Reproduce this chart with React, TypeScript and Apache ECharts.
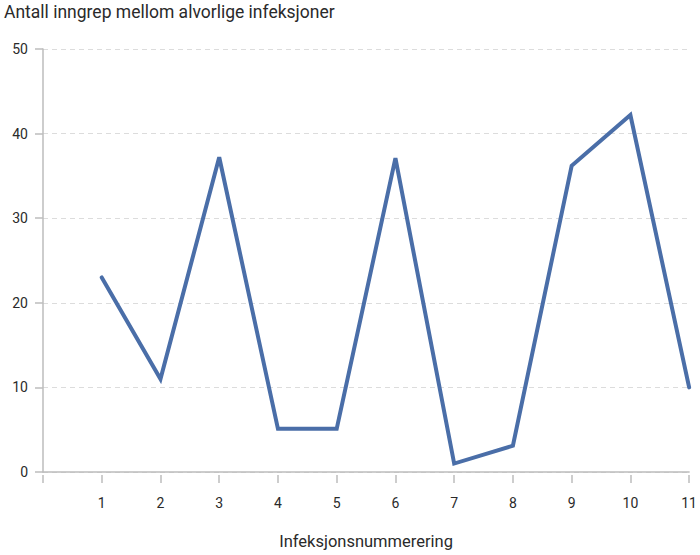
import React, { useEffect, useRef } from "react";
import * as echarts from "echarts";

const infectionNumbers = [1, 2, 3, 4, 5, 6, 7, 8, 9, 10, 11];
const procedureCounts = [23, 11, 37.2, 5.1, 5.1, 37.1, 1, 3.1, 36.2, 42.2, 10];
const yTitle = "Antall inngrep mellom alvorlige infeksjoner";
const xTitle = "Infeksjonsnummerering";

export default function App() {
  const ref = useRef<HTMLDivElement>(null);
  useEffect(() => {
    if (!ref.current) return;
    const chart = echarts.init(ref.current, undefined, { renderer: "svg" });
    const font = "Roboto, 'DejaVu Sans', sans-serif";
    const textColor = "#2a2a2a";
    const axisGrey = "#bcbcbc";
    chart.setOption({
      animation: false,
      textStyle: { fontFamily: font },
      grid: { left: 43, right: 10, top: 49, bottom: 81, containLabel: false },
      title: {
        text: yTitle,
        left: 4,
        top: 3,
        padding: 0,
        textStyle: { fontFamily: font, fontSize: 17.5, fontWeight: "normal", color: textColor },
      },
      xAxis: [
        {
          type: "value",
          min: 0,
          max: 11,
          interval: 1,
          axisLine: { show: true, lineStyle: { color: axisGrey, width: 1.5 } },
          axisTick: { show: false },
          axisLabel: { show: false },
          splitLine: { show: false },
        },
        {
          type: "value",
          position: "bottom",
          offset: 3,
          min: 0,
          max: 11,
          interval: 1,
          axisLine: { show: false },
          axisTick: { show: true, length: 8, lineStyle: { color: axisGrey, width: 1.5 } },
          axisLabel: {
            show: true,
            margin: 21,
            fontSize: 14,
            color: textColor,
            fontFamily: font,
            formatter: (v: number) => (v === 0 ? "" : String(v)),
          },
          splitLine: { show: false },
          name: xTitle,
          nameLocation: "middle",
          nameGap: 58,
          nameTextStyle: { fontSize: 16.5, color: textColor, fontFamily: font },
        },
      ],
      yAxis: {
        type: "value",
        min: 0,
        max: 50,
        interval: 10,
        axisLine: { show: true, lineStyle: { color: axisGrey, width: 1.5 } },
        axisTick: { show: true, length: 8, lineStyle: { color: axisGrey, width: 1.5 } },
        axisLabel: { fontSize: 14, color: textColor, margin: 15, fontFamily: font },
        splitLine: { show: true, lineStyle: { color: "#dcdcdc", type: [5, 4], width: 1 } },
      },
      series: [
        {
          type: "line",
          xAxisIndex: 0,
          data: infectionNumbers.map((n, i) => [n, procedureCounts[i]]),
          showSymbol: false,
          symbol: "none",
          lineStyle: { color: "#4a6ea8", width: 4, join: "miter", cap: "round" },
        },
      ],
    });
    return () => chart.dispose();
  }, []);
  return <div ref={ref} style={{ width: 700, height: 555, position: "absolute", left: 0, top: 0 }} />;
}
